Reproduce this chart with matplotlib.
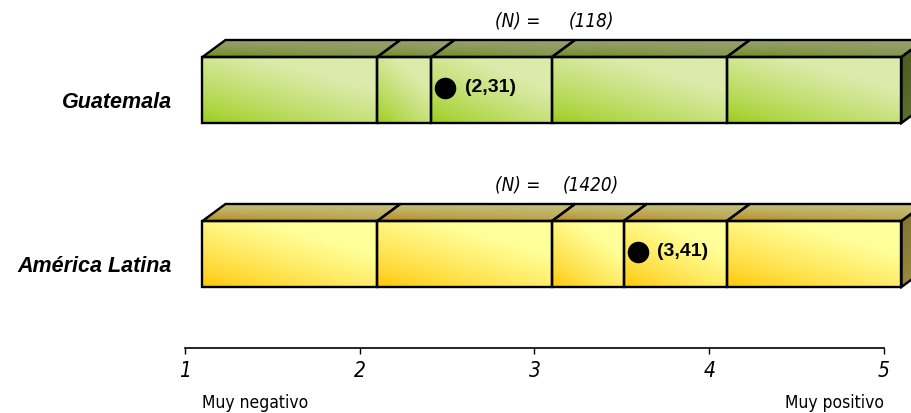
import numpy as np
import matplotlib.pyplot as plt
from matplotlib.patches import Polygon
from matplotlib import font_manager as fm
from matplotlib.colors import to_rgb

# data
categories = ["Guatemala", "América Latina"]
means = [2.31, 3.41]
n_values = [118, 1420]
scale_ticks = [1, 2, 3, 4, 5]
end_labels = ["Muy negativo", "Muy positivo"]

# colours per row: saturated front, pale front, top front, top back, side dark, side light
palettes = [
    ("#99cc14", "#dcebab", "#6e8e1c", "#96a070", "#46561c", "#6a7a3c"),
    ("#ffc400", "#ffff99", "#b8881e", "#c2be7a", "#7e6e2c", "#a09448"),
]

# narrow-ish font for the light texts if one is around
condensed = any(f.name == "DejaVu Sans" and f.stretch == "condensed"
                for f in fm.fontManager.ttflist)
if condensed:
    light = dict(family="DejaVu Sans", stretch="condensed")
else:
    light = dict(family="Liberation Sans")

fig = plt.figure(figsize=(9.12, 4.13), dpi=100)
ax = fig.add_axes([0, 0, 1, 1])

unit = 174.75  # pixels per scale unit
ax.set_xlim(1 - 185 / unit, 1 + 727 / unit)
ax.set_ylim(413, 0)

shift = 0.1          # front face offset
dx = 23 / unit       # depth in x
dy = 17              # depth in y (px)
row_top = [57, 221]
face_h = 66


def shade(c0, c1, s):
    c0 = np.array(to_rgb(c0))
    c1 = np.array(to_rgb(c1))
    return c0 + (c1 - c0) * s[..., None]


def face_image(img, extent, poly):
    im = ax.imshow(img, extent=extent, origin="upper", aspect="auto",
                   interpolation="bilinear", zorder=2)
    im.set_clip_path(poly)


for i, cat in enumerate(categories):
    sat, pale, top_f, top_b, side_d, side_l = palettes[i]
    yt = row_top[i]
    yb = yt + face_h
    edges = sorted(set(scale_ticks + [means[i]]))
    for a, b in zip(edges[:-1], edges[1:]):
        x0, x1 = a + shift, b + shift
        u, v = np.meshgrid(np.linspace(0, 1, 120), np.linspace(0, 1, 80))
        # front face
        front = Polygon([(x0, yt), (x1, yt), (x1, yb), (x0, yb)], closed=True,
                        fill=False, ec="black", lw=1.7, zorder=4)
        ax.add_patch(front)
        s = np.clip(0.6 * u + 0.8 * (1 - v), 0, 1) ** 0.75
        face_image(shade(sat, pale, s), (x0, x1, yb, yt), front)
        # top face
        top = Polygon([(x0, yt), (x1, yt), (x1 + dx, yt - dy), (x0 + dx, yt - dy)],
                      closed=True, fill=False, ec="black", lw=1.7, zorder=4)
        ax.add_patch(top)
        st = np.clip(1 - v ** 1.3 * (1 - 0.55 * u), 0, 1)
        face_image(shade(top_f, top_b, st), (x0, x1 + dx, yt, yt - dy), top)
    # right side
    xe = edges[-1] + shift
    side = Polygon([(xe, yt), (xe + dx, yt - dy), (xe + dx, yb - dy), (xe, yb)],
                   closed=True, fill=False, ec="black", lw=1.7, zorder=4)
    ax.add_patch(side)
    ss = np.clip(0.4 * u + 0.6 * v, 0, 1)
    face_image(shade(side_d, side_l, ss), (xe, xe + dx, yb, yt - dy), side)

    # mean marker and label
    ym = (yt + yb) / 2 - 2
    xm = means[i] + shift + 0.08
    ax.plot(xm, ym, "o", color="black", ms=14.5, zorder=6)
    ax.annotate("(" + f"{means[i]:.2f}".replace(".", ",") + ")",
                (xm, ym), xytext=(14, 0),
                textcoords="offset points", ha="left", va="center",
                fontsize=14, fontweight="bold", family="Liberation Sans", zorder=6)

    # row label
    ax.text(1 + (172 - 185) / unit, yt + 46, cat, ha="right", va="center",
            fontsize=15.5, fontweight="bold", style="italic",
            family="Liberation Sans")

    # sample size
    ax.text(1 + (540 - 185) / unit, yt - 36, "(N) =", ha="right", va="center",
            fontsize=13.5, style="italic", **light)
    ax.text(1 + (591 - 185) / unit, yt - 36, f"({n_values[i]})", ha="center",
            va="center", fontsize=13.5, style="italic", **light)

# scale axis
for sp in ["top", "left", "right"]:
    ax.spines[sp].set_visible(False)
ax.spines["bottom"].set_position(("data", 348))
ax.spines["bottom"].set_bounds(1, 5)
ax.spines["bottom"].set_linewidth(1.2)
ax.set_yticks([])
ax.set_xticks(scale_ticks)
ax.set_xticklabels([str(t) for t in scale_ticks], fontsize=15, style="italic",
                   **light)
ax.tick_params(axis="x", direction="out", length=4.5, width=1, pad=5)

ax.text(1 + shift, 403, end_labels[0], ha="left", va="center", fontsize=12.5,
        **light)
ax.text(5, 403, end_labels[1], ha="right", va="center", fontsize=12.5, **light)

fig.savefig("out.png", dpi=100)
